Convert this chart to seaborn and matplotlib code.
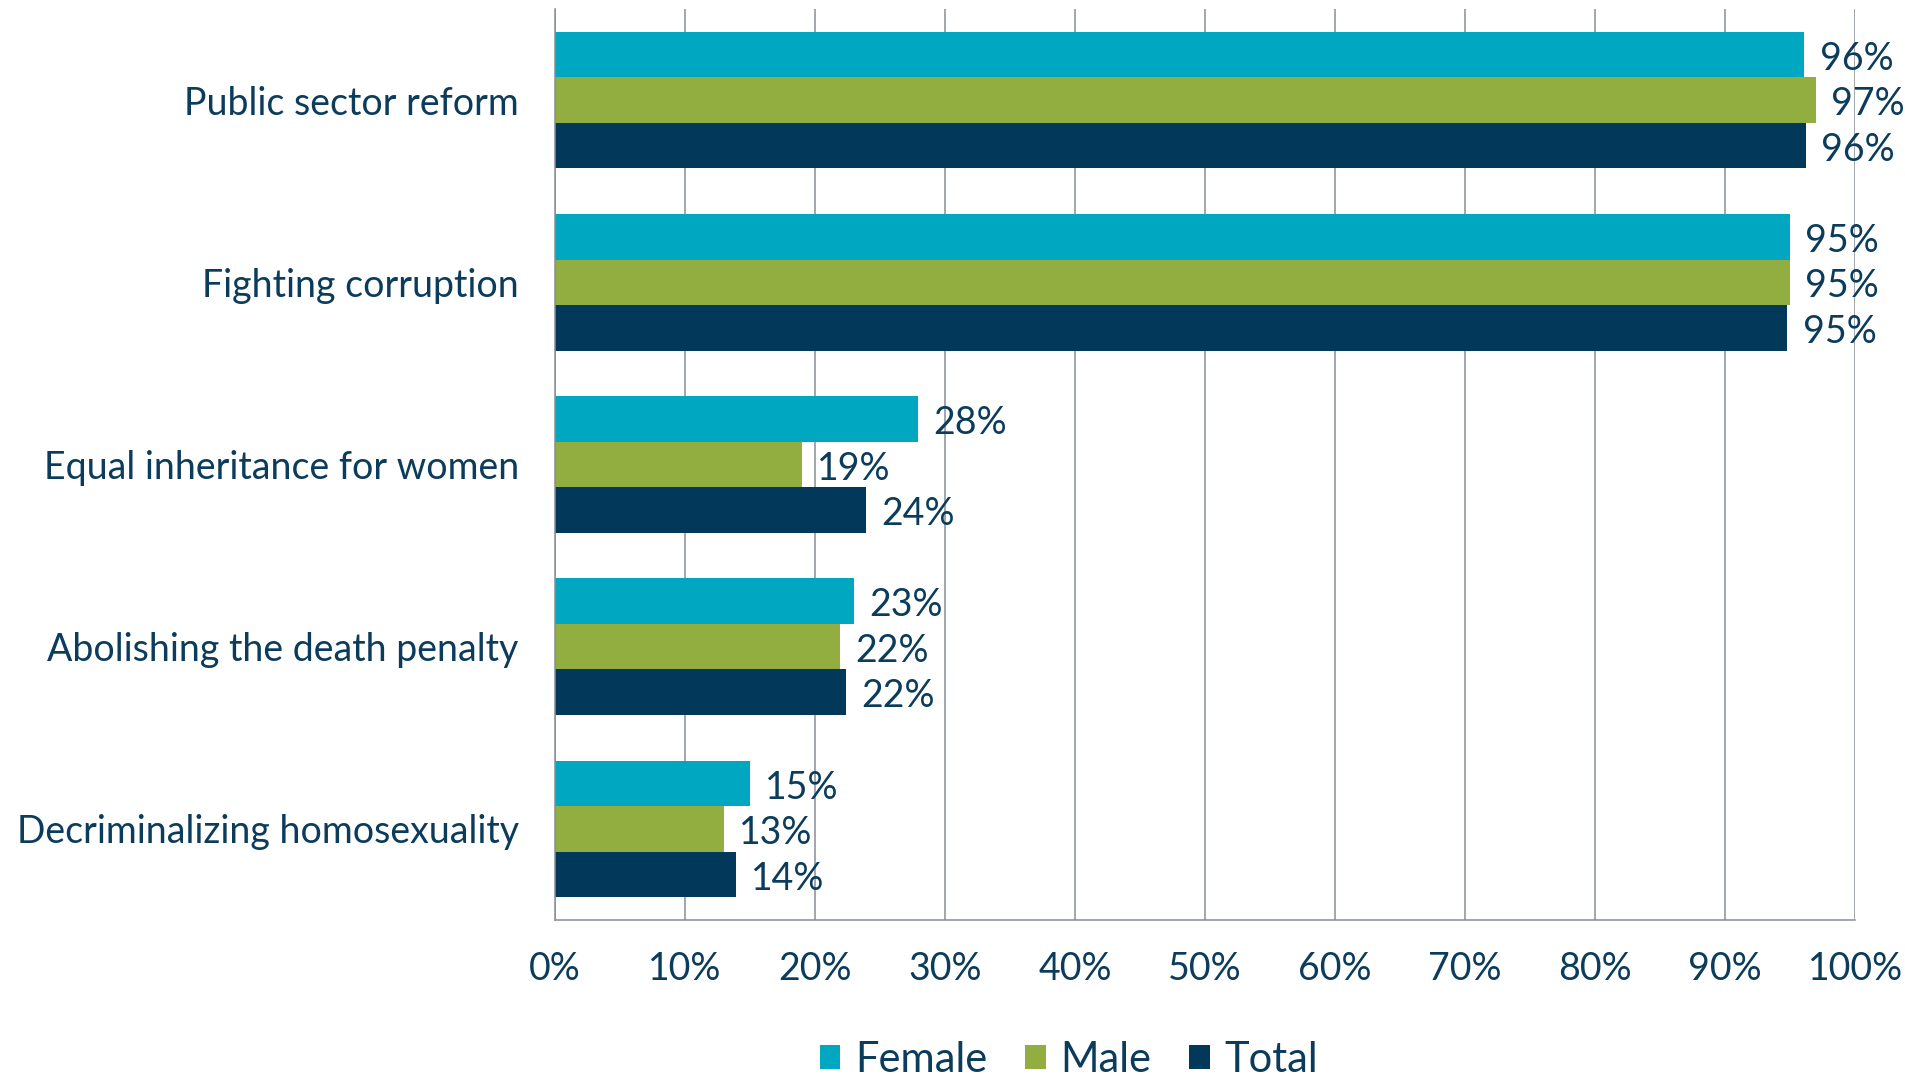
import matplotlib
matplotlib.use("Agg")
import matplotlib.pyplot as plt
from matplotlib.patches import Patch
from matplotlib.ticker import FixedLocator, NullFormatter
import pandas as pd
import seaborn as sns

# Share of respondents in favour, by gender
categories = [
    "Public sector reform",
    "Fighting corruption",
    "Equal inheritance for women",
    "Abolishing the death penalty",
    "Decriminalizing homosexuality",
]
female = [96.1, 95.0, 27.9, 23.0, 15.0]
male = [97.0, 95.0, 19.0, 21.9, 13.0]
total = [96.2, 94.8, 23.9, 22.4, 13.9]
groups = ["Female", "Male", "Total"]
x_ticks = list(range(0, 101, 10))
x_tick_labels = [f"{t}%" for t in x_ticks]

colors = {"Female": "#00A7C1", "Male": "#92AE41", "Total": "#02395A"}
TEXT = "#0C3C5C"
GRID = "#878E97"

df = pd.DataFrame({
    "category": categories * 3,
    "group": [g for g in groups for _ in categories],
    "value": female + male + total,
})

sns.set_theme(style="white")
plt.rcParams["font.family"] = ["Lato", "DejaVu Sans"]

fig = plt.figure(figsize=(19.05, 10.76), dpi=100)
ax = fig.add_axes([0.2913, 0.145, 0.9738 - 0.2913, 0.9916 - 0.145])

sns.barplot(
    data=df, x="value", y="category", hue="group", order=categories,
    hue_order=groups, palette=colors, orient="h", width=0.75,
    saturation=1, ax=ax, legend=False, errorbar=None, linewidth=0,
)

ax.set_xlim(0, 100)
ax.set_ylim(4.5, -0.5)
ax.set_xlabel("")
ax.set_ylabel("")

# Vertical gridlines behind the bars
ax.set_axisbelow(True)
ax.set_xticks(x_ticks)
ax.set_xticklabels(x_tick_labels, fontsize=27, color=TEXT)
ax.xaxis.grid(True, color=GRID, linewidth=1.1)
ax.tick_params(axis="x", direction="out", length=9, width=1.1, color=GRID, pad=13)

# Category ticks at the slot boundaries, labels centred in each slot
ax.yaxis.set_major_locator(FixedLocator([i - 0.5 for i in range(len(categories) + 1)]))
ax.yaxis.set_major_formatter(NullFormatter())
ax.yaxis.set_minor_locator(FixedLocator(list(range(len(categories)))))
ax.set_yticklabels(categories, minor=True, fontsize=27, color=TEXT)
ax.tick_params(axis="y", which="major", direction="out", length=9, width=1.1, color=GRID)
ax.tick_params(axis="y", which="minor", length=0, pad=26)

for side in ["top", "right"]:
    ax.spines[side].set_visible(False)
for side in ["left", "bottom"]:
    ax.spines[side].set_color(GRID)
    ax.spines[side].set_linewidth(1.1)

# Value labels just past the end of each bar
for container in ax.containers:
    for bar, v in zip(container.patches, container.datavalues):
        ax.annotate(
            f"{v:.0f}%", xy=(bar.get_x() + bar.get_width(), bar.get_y() + bar.get_height() / 2),
            xytext=(11, -3), textcoords="offset points", ha="left", va="center",
            fontsize=27, color=TEXT,
        )

handles = [Patch(facecolor=colors[g], edgecolor="none", label=g) for g in groups]
fig.legend(
    handles=handles, loc="center", bbox_to_anchor=(0.561, 0.015),
    ncol=3, frameon=False, fontsize=30, labelcolor=TEXT, borderaxespad=0,
    borderpad=0, handlelength=0.5, handleheight=0.5, handletextpad=0.35,
    columnspacing=0.9,
)

fig.savefig("out.png", dpi=100)
